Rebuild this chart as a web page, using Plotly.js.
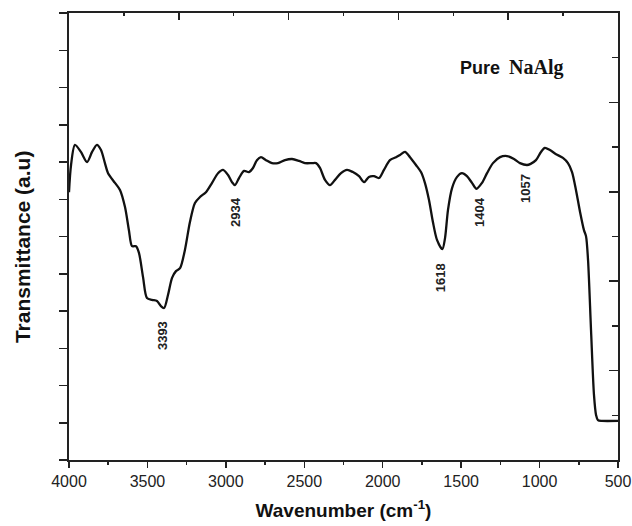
<!DOCTYPE html>
<html>
<head>
<meta charset="utf-8">
<script src="https://cdn.plot.ly/plotly-3.0.1.min.js"></script>
<style>html,body{margin:0;padding:0;background:#fff;}#chart{width:632px;height:526px;}</style>
</head>
<body>
<div id="chart"></div>
<script>
// Spectrum (wavenumber, cm^-1) and transmittance (arbitrary units)
const wavenumber = [4000,3987,3962,3924,3885,3853,3822,3796,3771,3751,3707,3675,3643,3618,3598,3573,3554,3528,3503,3471,3439,3414,3394,3369,3343,3318,3292,3261,3229,3197,3165,3127,3088,3050,3018,2986,2961,2942,2916,2884,2853,2827,2802,2776,2744,2706,2668,2623,2578,2534,2496,2451,2425,2400,2368,2336,2304,2266,2228,2190,2151,2119,2088,2056,2024,1992,1954,1915,1890,1858,1826,1788,1756,1731,1705,1680,1654,1620,1603,1584,1558,1526,1495,1463,1431,1402,1367,1335,1297,1252,1208,1163,1125,1080,1057,1023,991,966,934,895,851,819,793,768,742,717,704,691,672,653,640,628,602,500];
const transmittance = [7.19,7.92,8.46,8.27,8.00,8.27,8.46,8.32,7.97,7.70,7.44,7.25,6.79,6.17,5.74,5.74,5.56,4.91,4.35,4.30,4.27,4.13,4.08,4.43,4.89,5.07,5.15,5.64,6.39,6.90,7.06,7.19,7.44,7.70,7.79,7.65,7.46,7.38,7.57,7.76,7.73,7.84,8.05,8.13,8.05,7.97,7.97,8.05,8.08,8.03,7.97,7.97,7.97,7.84,7.52,7.38,7.52,7.70,7.79,7.73,7.62,7.46,7.60,7.62,7.57,7.79,8.05,8.13,8.19,8.27,8.13,7.92,7.73,7.44,6.98,6.39,5.91,5.66,5.95,6.71,7.30,7.60,7.70,7.62,7.44,7.28,7.44,7.70,7.97,8.13,8.16,8.08,7.97,7.92,7.95,8.05,8.27,8.38,8.32,8.21,8.11,7.97,7.73,7.25,6.66,6.17,6.01,5.37,3.49,1.74,1.21,1.07,1.05,1.05];

// Peak labels
const peakLabels = ["3393","2934","1618","1404","1057"];
const peakLabelX = [3400,2935,1632,1380,1093];
const peakLabelY = [3.33,6.66,4.89,6.66,7.30];

const xTicks = [4000,3500,3000,2500,2000,1500,1000,500];

const traces = [
  {x: wavenumber, y: transmittance, type: 'scatter', mode: 'lines',
   line: {color: '#111', width: 2.3, shape: 'spline', smoothing: 0.8},
   hoverinfo: 'skip', showlegend: false},
  {x: [], y: [], xaxis: 'x2', yaxis: 'y2', type: 'scatter', mode: 'lines', showlegend: false}
];

const SANS = 'Liberation Sans, Arial, sans-serif';
const SERIF = 'Liberation Serif, Times New Roman, serif';

const annotations = peakLabels.map((t, i) => ({
  x: peakLabelX[i], y: peakLabelY[i], xref: 'x', yref: 'y',
  text: '<b>' + t + '</b>', showarrow: false, textangle: -90,
  font: {family: SANS, size: 13, color: '#222'}
}));
annotations.push({
  x: 0.709, y: 0.878, xref: 'paper', yref: 'paper', xanchor: 'left', yanchor: 'middle',
  showarrow: false, text: '<b>Pure</b>',
  font: {family: SANS, size: 18, color: '#111'}
});
annotations.push({
  x: 0.798, y: 0.879, xref: 'paper', yref: 'paper', xanchor: 'left', yanchor: 'middle',
  showarrow: false, text: '<b>NaAlg</b>',
  font: {family: SERIF, size: 20, color: '#111'}
});
// y-axis title
annotations.push({
  x: -0.085, y: 0.477, xref: 'paper', yref: 'paper', xanchor: 'center', yanchor: 'middle',
  showarrow: false, textangle: -90, text: '<b>Transmittance (a.u)</b>',
  font: {family: SANS, size: 21, color: '#111'}
});

const axisLine = {showline: true, linecolor: '#222', linewidth: 2, showgrid: false, zeroline: false};

const layout = {
  width: 632, height: 526,
  margin: {l: 69, r: 14, t: 13, b: 66},
  paper_bgcolor: '#fff', plot_bgcolor: '#fff',
  showlegend: false,
  xaxis: Object.assign({}, axisLine, {
    range: [4000, 500], tickvals: xTicks, ticks: 'outside', ticklen: 6, tickwidth: 1.5, tickcolor: '#222',
    minor: {dtick: 250, ticks: 'outside', ticklen: 3, tickwidth: 1.5, tickcolor: '#222'},
    tickfont: {family: SANS, size: 16, color: '#222'},
    title: {text: '<b>Wavenumber (cm<sup>-1</sup>)</b>', standoff: 14,
            font: {family: SANS, size: 19, color: '#111'}}
  }),
  xaxis2: Object.assign({}, axisLine, {
    overlaying: 'x', side: 'top', anchor: 'y', range: [0, 10], dtick: 2,
    ticks: 'inside', ticklen: 7, tickwidth: 1.5, tickcolor: '#222', showticklabels: false,
    minor: {dtick: 1, ticks: 'inside', ticklen: 3, tickwidth: 1.5, tickcolor: '#222'}
  }),
  yaxis: Object.assign({}, axisLine, {
    range: [0, 12], dtick: 1, ticks: 'outside', ticklen: 8, tickwidth: 1.5, tickcolor: '#222',
    showticklabels: false
  }),
  yaxis2: Object.assign({}, axisLine, {
    overlaying: 'y', side: 'right', anchor: 'x', range: [0, 10], dtick: 2,
    ticks: 'inside', ticklen: 9, tickwidth: 1.5, tickcolor: '#222', showticklabels: false,
    minor: {dtick: 1, ticks: 'inside', ticklen: 6, tickwidth: 1.5, tickcolor: '#222'}
  }),
  annotations: annotations
};

Plotly.newPlot('chart', traces, layout, {displayModeBar: false, staticPlot: true});
</script>
</body>
</html>
